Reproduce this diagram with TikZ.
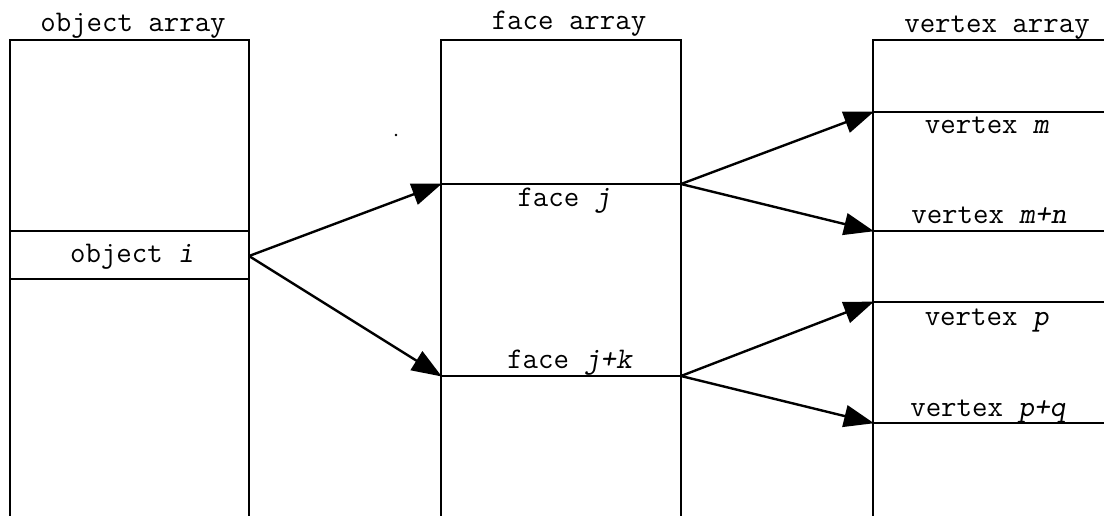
\documentclass[tikz,border=0pt]{standalone}
\usetikzlibrary{arrows.meta}
\tikzset{
  col/.style={line width=2.8pt},
  row/.style={line width=2.8pt},
  ptr/.style={line width=2.4pt,-{Triangle[length=30pt,width=22pt]},shorten >=-1pt},
  lbl/.style={anchor=base,inner sep=0pt,font=\ttfamily\fontsize{30}{34}\selectfont},
}
\begin{document}
\begin{tikzpicture}[x=1pt,y=-1pt]
\useasboundingbox (0,0) rectangle (1104,515);
\clip (0,0) rectangle (1104,515);
% columns
\draw[col] (10,520) -- (10,40) -- (249,40) -- (249,520);
\draw[col] (441,520) -- (441,40) -- (681,40) -- (681,520);
\draw[col] (873,520) -- (873,40) -- (1110,40);
% rows
\draw[row] (10,231) -- (249,231);
\draw[row] (10,279) -- (249,279);
\draw[row] (441,184) -- (681,184);
\draw[row] (441,376) -- (681,376);
\draw[row] (873,112) -- (1110,112);
\draw[row] (873,231) -- (1110,231);
\draw[row] (873,302) -- (1110,302);
\draw[row] (873,423) -- (1110,423);
% anchor points
\coordinate (oi) at (249,256);
\coordinate (fjL) at (441,184);
\coordinate (fjR) at (681,184);
\coordinate (fkL) at (441,376);
\coordinate (fkR) at (681,376);
\coordinate (vm) at (873,112);
\coordinate (vmn) at (873,231);
\coordinate (vp) at (873,302);
\coordinate (vpq) at (873,423);
% titles
\node[lbl] (t1) at (133,31) {object array};
\node[lbl] (t2) at (569,29) {face array};
\node[lbl] (t3) at (997,32) {vertex array};
% labels
\node[lbl] (l1) at (132,262) {object \textsl{i}};
\node[lbl] (l2) at (564,206) {face \textsl{j}};
\node[lbl] (l3) at (570,368) {face \textsl{j+k}};
\node[lbl] (l4) at (987,133) {vertex \textsl{m}};
\node[lbl] (l5) at (989,223) {vertex \textsl{m+n}};
\node[lbl] (l6) at (987,325) {vertex \textsl{p}};
\node[lbl] (l7) at (988,416) {vertex \textsl{p+q}};
% arrows
\draw[ptr] (oi) -- (fjL);
\draw[ptr] (oi) -- (fkL);
\draw[ptr] (fjR) -- (vm);
\draw[ptr] (fjR) -- (vmn);
\draw[ptr] (fkR) -- (vp);
\draw[ptr] (fkR) -- (vpq);
% stray dot
\fill (396,135) circle (1.3);
\end{tikzpicture}
\end{document}
